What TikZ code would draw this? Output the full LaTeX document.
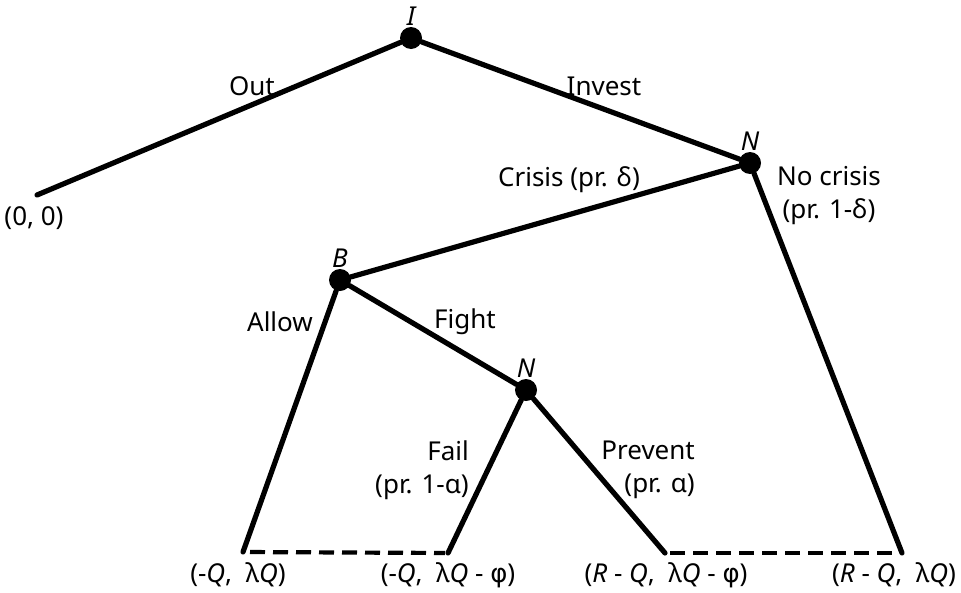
\documentclass[tikz,border=0pt]{standalone}
\usepackage{fontspec}
\setmainfont{Noto Sans}
\newfontfamily\grkfont{DejaVu Sans}
\newcommand{\phiglyph}{{\grkfont φ}}
\usetikzlibrary{positioning}
\tikzset{
  dnode/.style   = {circle, fill=black, minimum size=22pt, inner sep=0pt},
  move/.style    = {line width=5.2pt, line cap=round},
  infoset/.style = {line width=4.2pt, dash pattern=on 15pt off 8pt},
  movelab/.style = {inner sep=0pt, align=center},
  payoff/.style  = {inner sep=0pt},
  plab/.style    = {font=\fontsize{26}{30}\selectfont\itshape, inner sep=1pt},
}

\begin{document}
\begin{tikzpicture}[x=1pt, y=-1pt, every node/.style={font=\fontsize{26}{33}\selectfont}]
  \useasboundingbox (0,0) rectangle (961,592);
  % decision nodes
  \node[dnode, label={[plab]above:I}] (I)  at (411, 38) {};
  \node[dnode, label={[plab]above:N}] (N1) at (750, 163) {};
  \node[dnode, label={[plab]above:B}] (B)  at (340, 280) {};
  \node[dnode, label={[plab]above:N}] (N2) at (526, 390) {};
  % terminal points
  \coordinate (out)  at (37, 195);
  \coordinate (allow) at (243, 552);
  \coordinate (fail) at (448, 553);
  \coordinate (prev) at (665, 553);
  \coordinate (calm) at (902, 553);
  % moves
  \draw[move] (I) -- (out);
  \draw[move] (I) -- (N1);
  \draw[move] (N1) -- (B);
  \draw[move] (N1) -- (calm);
  \draw[move] (B) -- (allow);
  \draw[move] (B) -- (N2);
  \draw[move] (N2) -- (fail);
  \draw[move] (N2) -- (prev);
  \draw[infoset, shorten <=7pt, shorten >=3pt] (allow) -- (fail);
  \draw[infoset, shorten <=5pt, shorten >=7pt] (prev) -- (calm);
  % move labels
  \node[movelab] (lout) at (252, 86) {Out};
  \node[movelab] (linv) at (604, 86) {Invest};
  \node[movelab] (lcri) at (569, 180) {Crisis (pr. δ)};
  \node[movelab] (lnoc) at (829, 196) {No crisis\\(pr. 1-δ)};
  \node[movelab] (lall) at (280, 322) {Allow};
  \node[movelab] (lfig) at (465, 322) {Fight};
  \node[movelab, align=right, anchor=east] (lfai) at (469, 470) {Fail\\(pr. 1-α)};
  \node[movelab, align=right, anchor=east] (lpre) at (695, 470) {Prevent\\(pr. α)};
  % payoffs
  \node[payoff] (p0) at (34, 218) {(0, 0)};
  \node[payoff] (p1) at (238, 575) {(-\textit{Q},\ \ λ\textit{Q})};
  \node[payoff] (p2) at (448, 575) {(-\textit{Q},\ \ λ\textit{Q} - \phiglyph)};
  \node[payoff] (p3) at (666, 575) {(\textit{R} - \textit{Q},\ \ λ\textit{Q} - \phiglyph)};
  \node[payoff] (p4) at (894, 575) {(\textit{R} - \textit{Q},\ \ λ\textit{Q})};
\end{tikzpicture}
\end{document}
